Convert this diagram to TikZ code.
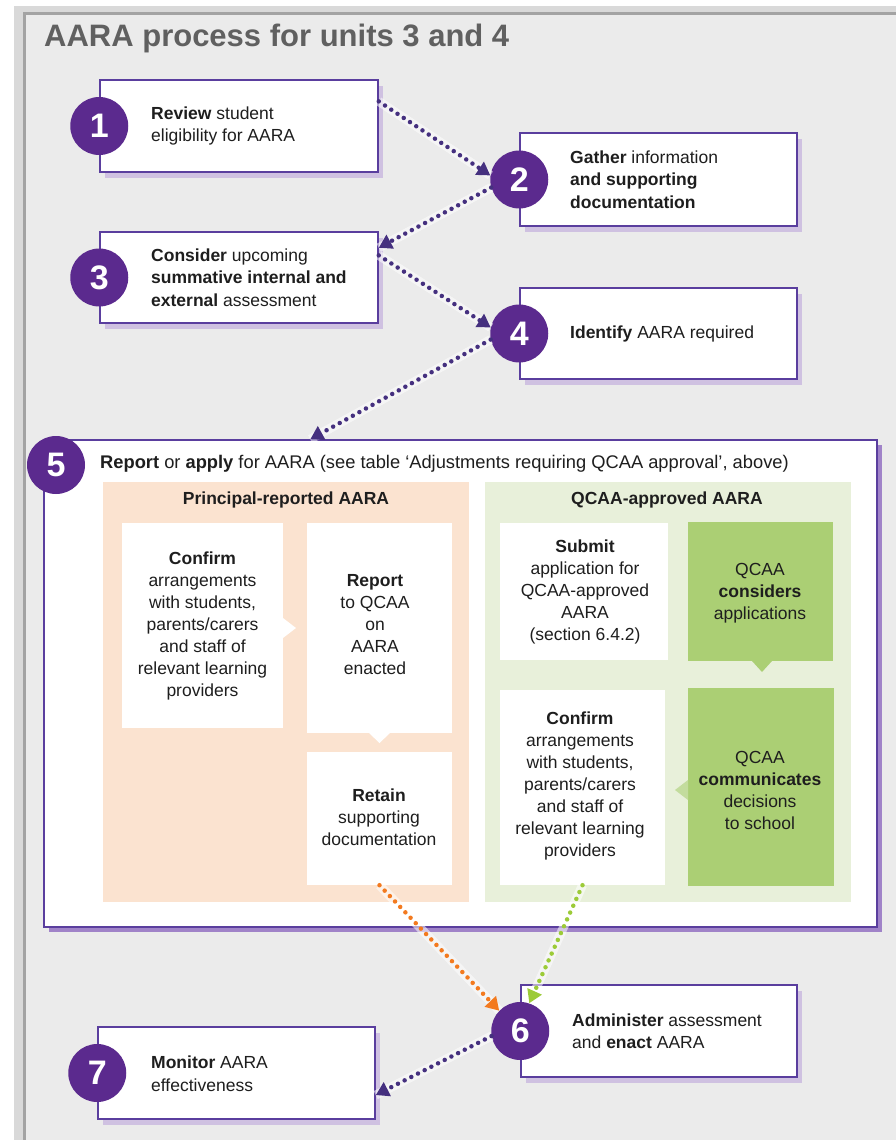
\documentclass[tikz,border=0pt]{standalone}
\usepackage{fontspec}
\setmainfont{Liberation Sans}
\usetikzlibrary{arrows.meta,shadows,calc}
\definecolor{aapurple}{HTML}{5B2A8E}
\definecolor{bxpurple}{HTML}{5A3E9E}
\definecolor{dotpurple}{HTML}{45307F}
\definecolor{shlilac}{HTML}{CDBDE0}
\definecolor{sh5}{HTML}{A083C8}
\definecolor{bggray}{HTML}{EBEBEB}
\definecolor{frgray}{HTML}{A3A3A3}
\definecolor{peach}{HTML}{FBE3D0}
\definecolor{palegreen}{HTML}{E8F0DA}
\definecolor{qgreen}{HTML}{ABCF74}
\definecolor{oarrow}{HTML}{F37A1F}
\definecolor{garrow}{HTML}{9CCB38}
\definecolor{txtc}{HTML}{1E1E1E}
\definecolor{titlegray}{HTML}{606060}
\begin{document}
\begin{tikzpicture}[x=1pt,y=-1pt,
  stepbox/.style={draw=bxpurple, line width=1.5pt, fill=white, inner sep=0,
    drop shadow={shadow xshift=5pt, shadow yshift=-6pt, fill=shlilac, opacity=0.9}},
  bigbox/.style={draw=bxpurple, line width=1.5pt, fill=white, inner sep=0,
    drop shadow={shadow xshift=5pt, shadow yshift=-5pt, fill=sh5, opacity=1}},
  numc/.style={circle, fill=aapurple, minimum size=58pt, inner sep=0, text=white,
    font=\fontsize{34}{34}\selectfont\bfseries},
  stxt/.style={anchor=west, align=left, inner sep=0, text=txtc,
    font=\fontsize{17.5}{22.5}\selectfont},
  ctxt/.style={align=center, inner sep=0, text=txtc,
    font=\fontsize{17.5}{22}\selectfont},
  panel/.style={inner sep=0, draw=none},
  wbox/.style={fill=white, inner sep=0, draw=none},
  gbox/.style={fill=qgreen, inner sep=0, draw=none},
  dotline/.style={line width=4.5pt, dash pattern=on 0pt off 7.5pt, line cap=round,
    preaction={draw=white, draw opacity=0.55, line width=9pt, solid, -}},
  parrow/.style={dotline, draw=dotpurple, -{Triangle[length=13pt,width=15pt]}},
  oarr/.style={dotline, draw=oarrow, -{Triangle[length=13pt,width=15pt]}},
  garr/.style={dotline, draw=garrow, -{Triangle[length=13pt,width=15pt]}},
]
\useasboundingbox (0,0) rectangle (896,1140);
% background frame
\fill[white] (0,0) rectangle (896,1140);
\fill[gray!30] (14,6) rectangle (896,1140);
\fill[bggray] (24,14) rectangle (896,1140);
\draw[frgray, line width=3pt] (24,1140) -- (24,14) -- (896,14);

% title
\node[anchor=west, inner sep=0, text=titlegray, font=\fontsize{31}{31}\selectfont\bfseries] (title) at (44,38) {AARA process for units 3 and 4};

% step boxes
\node[stepbox, minimum width=278pt, minimum height=92pt] (b1) at (239,126) {};
\node[stepbox, minimum width=277pt, minimum height=93pt] (b2) at (658.5,179.5) {};
\node[stepbox, minimum width=278pt, minimum height=91pt] (b3) at (239,277.5) {};
\node[stepbox, minimum width=277pt, minimum height=91pt] (b4) at (658.5,333.5) {};
\node[bigbox, minimum width=833pt, minimum height=487pt] (b5) at (460.5,683.5) {};
\node[stepbox, minimum width=276pt, minimum height=92pt] (b6) at (659,1031) {};
\node[stepbox, minimum width=277pt, minimum height=92pt] (b7) at (236.5,1073) {};

% panels inside 5
\node[panel, fill=peach, minimum width=366pt, minimum height=420pt] (pp) at (285.5,692) {};
\node[panel, fill=palegreen, minimum width=366pt, minimum height=420pt] (qp) at (667.5,692) {};
\node[wbox, minimum width=161pt, minimum height=205pt] (pconf) at (202.5,625.5) {};
\node[wbox, minimum width=145pt, minimum height=210pt] (prep) at (379.5,628) {};
\node[wbox, minimum width=145pt, minimum height=133pt] (pret) at (379.5,818.5) {};
\node[wbox, minimum width=168pt, minimum height=137pt] (qsub) at (584,591.5) {};
\node[gbox, minimum width=145pt, minimum height=139pt] (qcons) at (760.5,591.5) {};
\node[wbox, minimum width=165pt, minimum height=195pt] (qconf) at (582.5,787.5) {};
\node[gbox, minimum width=146pt, minimum height=198pt] (qcomm) at (761,787) {};

% small notches
\fill[white] (283,618) -- (296,628) -- (283,638) -- cycle;
\fill[white] (369,733) -- (390,733) -- (379.5,743) -- cycle;
\fill[qgreen] (752,661) -- (772,661) -- (762,672) -- cycle;
\fill[qgreen!60!palegreen] (688,780) -- (675,790) -- (688,800) -- cycle;

% circles
\node[numc] (c1) at (b1.west) {1};
\node[numc] (c2) at (b2.west) {2};
\node[numc] (c3) at (b3.west) {3};
\node[numc] (c4) at (b4.west) {4};
\node[numc] (c5) at (56,465) {5};
\node[numc] (c6) at (b6.west) {6};
\node[numc] (c7) at (b7.west) {7};

% texts
\node[stxt] (t1) at (151,126) {\textbf{Review} student\\eligibility for AARA};
\node[stxt] (t2) at (570,179.5) {\textbf{Gather} information\\\textbf{and supporting}\\\textbf{documentation}};
\node[stxt] (t3) at (151,277.5) {\textbf{Consider} upcoming\\\textbf{summative internal and}\\\textbf{external} assessment};
\node[stxt] (t4) at (570,334) {\textbf{Identify} AARA required};
\node[stxt, font=\fontsize{18.3}{22}\selectfont] (t5) at (100,464) {\textbf{Report} or \textbf{apply} for AARA (see table ‘Adjustments requiring QCAA approval’, above)};
\node[stxt] (t6) at (572,1031) {\textbf{Administer} assessment\\and \textbf{enact} AARA};
\node[stxt] (t7) at (151,1073.5) {\textbf{Monitor} AARA\\effectiveness};

\node[ctxt, font=\fontsize{17.5}{22}\selectfont\bfseries] (pt) at (286,500) {Principal-reported AARA};
\node[ctxt, font=\fontsize{17.5}{22}\selectfont\bfseries] (qt) at (667,500) {QCAA-approved AARA};

\node[ctxt] (tpconf) at (pconf) {\textbf{Confirm}\\arrangements\\with students,\\parents/carers\\and staff of\\relevant learning\\providers};
\node[ctxt] (tprep) at (375,625) {\textbf{Report}\\to QCAA\\on\\AARA\\enacted};
\node[ctxt] (tpret) at (379,817) {\textbf{Retain}\\supporting\\documentation};
\node[ctxt] (tqsub) at (585,592) {\textbf{Submit}\\application for\\QCAA-approved\\AARA\\(section 6.4.2)};
\node[ctxt] (tqcons) at (760,593) {QCAA\\\textbf{considers}\\applications};
\node[ctxt] (tqconf) at (580,786) {\textbf{Confirm}\\arrangements\\with students,\\parents/carers\\and staff of\\relevant learning\\providers};
\node[ctxt] (tqcomm) at (760,790) {QCAA\\\textbf{communicates}\\decisions\\to school};

% connectors
\draw[parrow] (b1.10) -- (c2.172);
\draw[parrow] (c2.196) -- (b3.12);
\draw[parrow] (b3.9) -- (c4.168);
\draw[parrow] (c4.192) -- ($(b5.north west)!0.32!(b5.north east)$);
\draw[oarr] (pret.south) -- (c6.136);
\draw[garr] (qconf.south) -- (c6.72);
\draw[parrow] (c6.190) -- (b7.-9);
\end{tikzpicture}
\end{document}
